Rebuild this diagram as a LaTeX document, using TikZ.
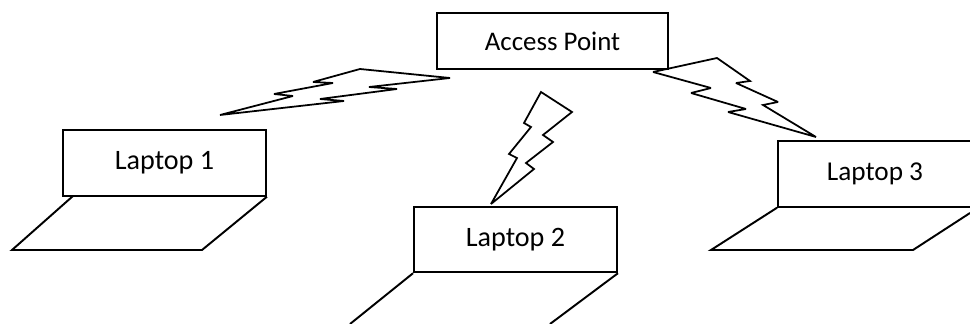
\documentclass[tikz,border=0pt]{standalone}
\usepackage{fontspec}
\setmainfont{Carlito}
\begin{document}
\begin{tikzpicture}[x=0.02cm, y=-0.02cm, font=\fontsize{16}{19}\selectfont]

	% Styles
	\tikzset{
		box/.style={
			rectangle, draw=black, line width=1.1pt,
			minimum width=#1, minimum height=1.31cm,
			inner sep=0pt, text centered,
		},
		shade/.style={
			line width=1.1pt, line join=miter,
		},
		bolt/.style={
			line width=1.0pt, line join=miter, miter limit=3,
		}
	}

	% Page size
	\useasboundingbox (0,0) rectangle (970,324);

	% Access point
	\node[box=4.62cm, minimum height=1.12cm, font=\fontsize{15.3}{18}\selectfont] (ap) at (552.5,41) {Access Point};

	% Laptops
	\node[box=4.06cm] (laptopA) at (164.5,163) {Laptop 1};
	\node[box=4.06cm] (laptopB) at (515.5,239.5) {Laptop 2};
	\node[box=3.88cm, font=\fontsize{15.5}{18}\selectfont] (laptopC) at (875,174) {Laptop 3};

	% Keyboards below the laptops
	\coordinate (hingeA) at (73,196);
	\draw[shade] (hingeA) -- (12,250) -- (202,250) -- (laptopA.south east);
	\draw[shade] (laptopB.south west) -- (350,324);
	\draw[shade] (laptopB.south east) -- (550,324);
	\draw[shade] (laptopC.south west) -- (711,250) -- (913,250) -- (970,213);

	% Lightning bolts
	\draw[bolt] (220,115) -- (293,96) -- (274,94) -- (333,83) -- (313,82) -- (360,69) -- (450,78)
		-- (369,87) -- (397,89) -- (320,99) -- (344,101) -- cycle;
	\draw[bolt] (491,204) -- (517,158) -- (509,154) -- (531,127) -- (524,123) -- (541,92) -- (572,112)
		-- (543,135) -- (553,142) -- (526,163) -- (534,169) -- cycle;
	\draw[bolt] (653,72) -- (717,58) -- (750,81) -- (736,83) -- (778,102) -- (763,105) -- (816,137)
		-- (728,112) -- (746,109) -- (691,93) -- (711,88) -- cycle;

\end{tikzpicture}
\end{document}
